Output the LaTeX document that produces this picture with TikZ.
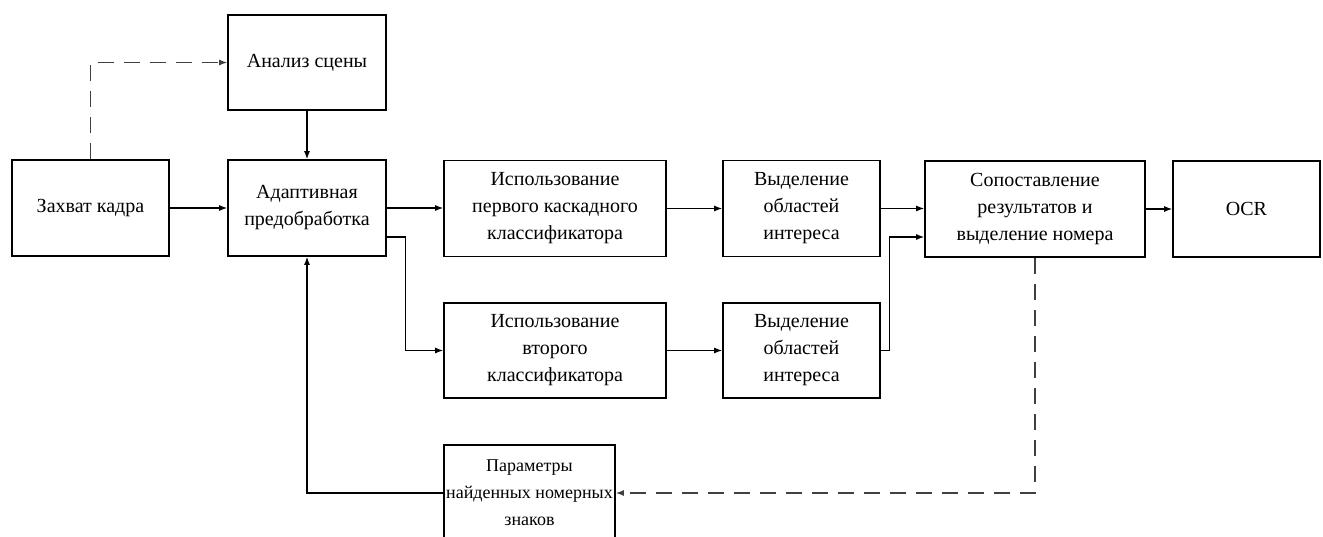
\documentclass[tikz,border=0pt]{standalone}
\usepackage{fontspec}
\setmainfont{Liberation Serif}
\usetikzlibrary{arrows.meta,calc}
\begin{document}
\begin{tikzpicture}[x=1pt,y=-1pt,
  blk/.style={draw, line width=1.6pt, align=center, inner sep=2pt,
    font=\fontsize{20}{27}\selectfont},
  arr/.style={line width=1.3pt, -{Latex[length=8pt,width=6pt]}},
  dsh/.style={arr, dash pattern=on 16pt off 10pt, draw=black!75}]
\useasboundingbox[fill=white] (0,0) rectangle (1323,536);
\node[blk, minimum width=157pt, minimum height=96pt] (zah) at (90.5,208) {Захват кадра};
\node[blk, minimum width=158pt, minimum height=95pt] (an) at (307,62.5) {Анализ сцены};
\node[blk, minimum width=158pt, minimum height=96pt] (adapt) at (307,208) {Адаптивная\\предобработка};
\node[blk, minimum width=222pt, minimum height=96pt] (isp1) at (555,208.5) {Использование\\первого каскадного\\классификатора};
\node[blk, minimum width=157pt, minimum height=96pt] (vyd1) at (801.5,208.5) {Выделение\\областей\\интереса};
\node[blk, minimum width=222pt, minimum height=95pt] (isp2) at (555,350.5) {Использование\\второго\\классификатора};
\node[blk, minimum width=157pt, minimum height=95pt] (vyd2) at (801.5,350.5) {Выделение\\областей\\интереса};
\node[blk, minimum width=220pt, minimum height=96pt] (sop) at (1035,209) {Сопоставление\\результатов и\\выделение номера};
\node[blk, minimum width=147pt, minimum height=96pt] (ocr) at (1246.5,209) {OCR};
\node[blk, font=\fontsize{18}{27}\selectfont, inner sep=0pt, minimum width=171pt, minimum height=96pt] (par) at (529.5,493) {Параметры\\найденных номерных\\знаков};
% connectors
\draw[arr] (zah.east) -- (adapt.west);
\draw[dsh] (zah.north) |- (an.west);
\draw[arr] (an.south) -- (adapt.north);
\draw[arr] (adapt.east) -- (adapt.east -| isp1.west);
\draw[arr] ([yshift=-29pt]adapt.east) -- ++(19,0) |- (isp2.west);
\draw[arr] (isp1.east) -- (vyd1.west);
\draw[arr] (isp2.east) -- (vyd2.west);
\draw[arr] (vyd1.east) -- (vyd1.east -| sop.west);
\draw[arr] (vyd2.east) -- ++(9,0) |- ([yshift=-28pt]sop.west);
\draw[arr] (sop.east) -- (sop.east -| ocr.west);
\draw[dsh] (sop.south) |- (par.east);
\draw[arr] (par.west) -| (adapt.south);
\end{tikzpicture}
\end{document}
